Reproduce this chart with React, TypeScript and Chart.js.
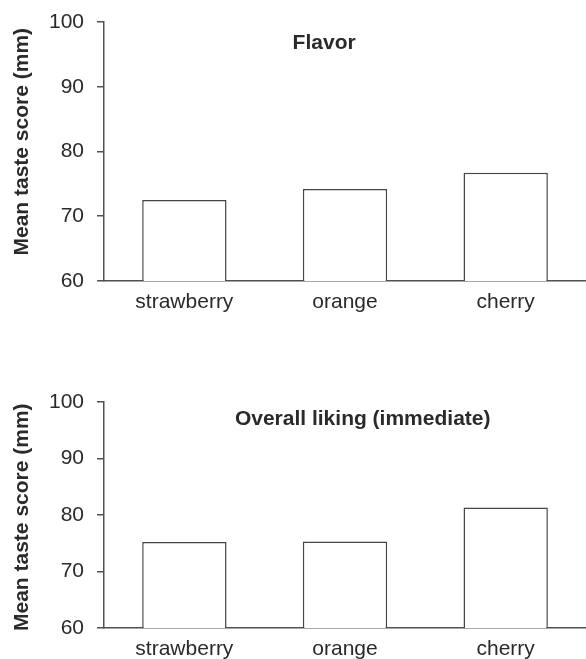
import React, { useEffect, useRef } from "react";
import { Chart, registerables } from "chart.js";

Chart.register(...registerables);

const categories = ["strawberry", "orange", "cherry"];
const flavorScores = [72.5, 74.2, 76.7];
const likingScores = [75.2, 75.3, 81.3];
const yTicks = [60, 70, 80, 90, 100];
const yAxisTitle = "Mean taste score (mm)";
const flavorTitle = "Flavor";
const likingTitle = "Overall liking (immediate)";

const FONT = "'Liberation Sans', Arial, Helvetica, sans-serif";
const INK = "#2a2a2a";
const LINE = "#505050";

const panelTextPlugin = {
  id: "panelText",
  afterDraw(chart: any, _args: any, opts: any) {
    if (!opts) return;
    const { ctx, scales } = chart;
    ctx.save();
    ctx.fillStyle = INK;
    // panel title inside plot area
    ctx.font = `bold ${opts.titleSize}px ${FONT}`;
    ctx.textAlign = "center";
    ctx.textBaseline = "alphabetic";
    ctx.fillText(opts.title, scales.x.getPixelForValue(opts.titleXAt), scales.y.getPixelForValue(opts.titleYAt));
    // rotated y-axis title
    ctx.font = `bold ${opts.axisTitleSize}px ${FONT}`;
    ctx.translate(opts.axisTitleX, scales.y.getPixelForValue(opts.axisTitleYAt));
    ctx.rotate(-Math.PI / 2);
    ctx.textAlign = "center";
    ctx.textBaseline = "middle";
    ctx.fillText(yAxisTitle, 0, 0);
    ctx.restore();
  },
};

function Panel(props: {
  title: string;
  values: number[];
  titleXAt: number;
  axisTitleYAt: number;
  width: number;
  height: number;
  padTop: number;
}) {
  const ref = useRef<HTMLCanvasElement | null>(null);
  useEffect(() => {
    if (!ref.current) return;
    const chart = new Chart(ref.current, {
      type: "bar",
      data: {
        labels: categories,
        datasets: [
          {
            data: props.values,
            backgroundColor: "#ffffff",
            borderColor: "#454545",
            borderWidth: 1.5,
            barPercentage: 0.525,
            categoryPercentage: 1,
          },
        ],
      },
      plugins: [panelTextPlugin],
      options: {
        responsive: false,
        animation: false,
        devicePixelRatio: 1,
        layout: { padding: { top: props.padTop, left: 36, right: 0, bottom: -12 } },
        plugins: {
          legend: { display: false },
          tooltip: { enabled: false },
          title: { display: false },
          panelText: {
            title: props.title,
            titleXAt: props.titleXAt,
            titleYAt: 95.9,
            titleSize: 21,
            axisTitleSize: 21,
            axisTitleX: 22,
            axisTitleYAt: props.axisTitleYAt,
          },
        } as any,
        scales: {
          x: {
            grid: { display: false, drawTicks: false, tickLength: 0 },
            border: { display: true, color: LINE, width: 1.5 },
            ticks: {
              color: INK,
              padding: 10,
              font: { family: FONT, size: 21, lineHeight: 1.1 },
              maxRotation: 0,
              autoSkip: false,
            },
          },
          y: {
            min: 60,
            max: 100,
            afterBuildTicks: (scale: any) => {
              scale.ticks = yTicks.map((v) => ({ value: v }));
            },
            grid: {
              drawOnChartArea: false,
              drawTicks: true,
              tickLength: 7,
              color: LINE,
              lineWidth: 1.5,
            },
            border: { display: true, color: LINE, width: 1.5 },
            ticks: {
              color: INK,
              padding: 13,
              font: { family: FONT, size: 21, lineHeight: 0.85 },
            },
            title: { display: false },
          },
        },
      } as any,
    });
    return () => chart.destroy();
  }, []);
  return (
    <canvas
      ref={ref}
      width={props.width}
      height={props.height}
      style={{ display: "block", width: props.width, height: props.height }}
    />
  );
}

export default function App() {
  useEffect(() => {
    document.body.style.margin = "0";
    document.body.style.background = "#ffffff";
  }, []);
  return (
    <div style={{ width: 586, height: 659, background: "#ffffff", overflow: "hidden" }}>
      <Panel title={flavorTitle} values={flavorScores} titleXAt={0.87} axisTitleYAt={81.5} width={586} height={312} padTop={22} />
      <Panel title={likingTitle} values={likingScores} titleXAt={1.11} axisTitleYAt={79.6} width={586} height={347} padTop={90} />
    </div>
  );
}
